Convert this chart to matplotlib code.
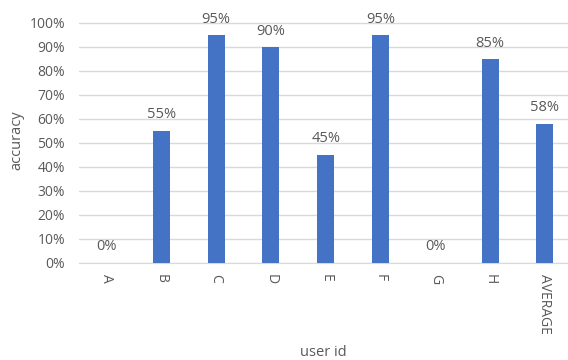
import matplotlib.pyplot as plt
from matplotlib.ticker import PercentFormatter

# accuracy per user, last bar is the mean of the others
users = ["A", "B", "C", "D", "E", "F", "G", "H", "AVERAGE"]
accuracy = [0.00, 0.55, 0.95, 0.90, 0.45, 0.95, 0.00, 0.85, 0.58]
yticks = [i / 10 for i in range(11)]

plt.rcParams['font.family'] = ['Open Sans', 'DejaVu Sans']
text_color = '#595959'
bar_color = '#4472C4'

fig = plt.figure(figsize=(5.68, 3.6), dpi=100)
ax = fig.add_axes([79 / 568, 97.5 / 360, 489 / 568, 244.3 / 360])

x = range(len(users))
ax.bar(x, accuracy, width=0.31, color=bar_color, zorder=3)

for xi, val in zip(x, accuracy):
    ax.annotate(f"{val:.0%}", (xi, val), xytext=(0, 6), textcoords='offset points',
                ha='center', va='bottom', fontsize=10.5, color=text_color)

ax.set_xlim(-0.5, 8.42)
ax.set_ylim(0, 1.02)
ax.set_yticks(yticks)
ax.yaxis.set_major_formatter(PercentFormatter(1.0, decimals=0))
ax.set_xticks(list(x))
ax.set_xticklabels(users, rotation=270, fontsize=10, color=text_color)
ax.tick_params(axis='y', labelsize=10, labelcolor=text_color, length=0, pad=10)
ax.tick_params(axis='x', length=0, pad=8)

ax.grid(axis='y', color='#D9D9D9', linewidth=1, zorder=0)
for side in ['top', 'right', 'left']:
    ax.spines[side].set_visible(False)
ax.spines['bottom'].set_color('#D9D9D9')

ax.set_ylabel("accuracy", fontsize=10.5, color=text_color, labelpad=4)
ax.set_xlabel("user id", fontsize=10.5, color=text_color, labelpad=8)

fig.savefig("out.png", dpi=100)
